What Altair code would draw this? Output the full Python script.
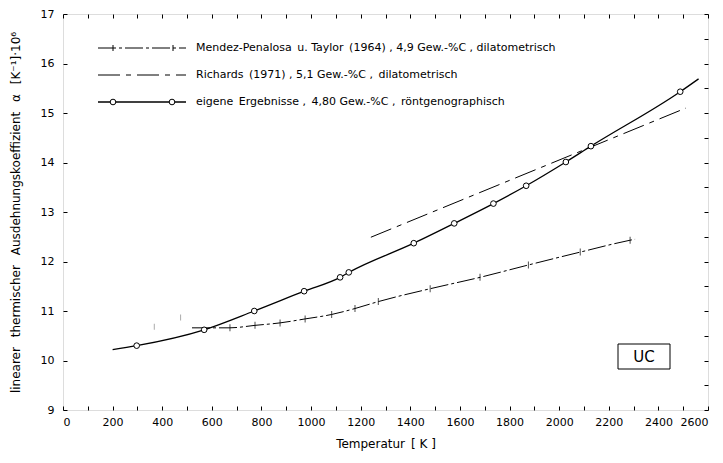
import altair as alt
import pandas as pd

# ---- data ----
x_tick_values = list(range(0, 2601, 100))
y_tick_values = [9 + 0.5 * i for i in range(17)]

# eigene Ergebnisse (circles)
eig_x = [297, 569, 771, 972, 1117, 1152, 1414, 1577, 1735, 1867, 2027, 2128, 2488]
eig_y = [10.30, 10.62, 11.00, 11.40, 11.68, 11.78, 12.37, 12.77, 13.17, 13.53, 14.01, 14.33, 15.43]
# smooth curve through the circles (start / end)
curve_x = [200, 297, 569, 771, 972, 1117, 1152, 1414, 1577, 1735, 1867, 2027, 2128, 2488, 2562]
curve_y = [10.22, 10.30, 10.62, 11.00, 11.40, 11.68, 11.78, 12.37, 12.77, 13.17, 13.53, 14.01, 14.33, 15.43, 15.69]

# Richards (1971)
rich_x = [1241, 2511]
rich_y = [12.49, 15.10]

# Mendez-Penalosa u. Taylor (1964)
mend_x = [520, 673, 774, 875, 976, 1083, 1177, 1271, 1480, 1681, 1876, 2085, 2286, 2306]
mend_y = [10.66, 10.66, 10.71, 10.76, 10.84, 10.93, 11.05, 11.19, 11.45, 11.68, 11.93, 12.19, 12.43, 12.45]
mend_tick_x = [673, 774, 875, 976, 1083, 1177, 1271, 1480, 1681, 1876, 2085, 2286]
mend_tick_y = [10.66, 10.71, 10.76, 10.84, 10.93, 11.05, 11.19, 11.45, 11.68, 11.93, 12.19, 12.43]
mend_extra_x = [368, 474]
mend_extra_y = [10.68, 10.87]

SP = "\u2002"  # en space, keeps the wide word gaps of the original lettering
legend_labels = [
    "Mendez-Penalosa" + SP + "u. Taylor" + SP + "(1964) , 4,9 Gew.-%C , dilatometrisch",
    "Richards" + SP + "(1971) , 5,1 Gew.-%C ," + SP + "dilatometrisch",
    "eigene" + SP + "Ergebnisse ," + SP + "4,80 Gew.-%C ," + SP + "röntgenographisch",
]
box_label = "UC"
x_title = "Temperatur" + SP + "[ K ]"
y_title = ("linearer" + SP + " thermischer" + SP + " Ausdehnungskoeffizient" + SP + " α"
           + SP + " [K⁻¹]·10⁶")

FONT = "DejaVu Sans"
W, H = 645, 396

xs = alt.Scale(domain=[0, 2600], nice=False, zero=False)
ys = alt.Scale(domain=[9, 17], nice=False, zero=False)

curve_df = pd.DataFrame({"T": curve_x, "a": curve_y})
eig_df = pd.DataFrame({"T": eig_x, "a": eig_y})
rich_df = pd.DataFrame({"T": rich_x, "a": rich_y})
mend_df = pd.DataFrame({"T": mend_x, "a": mend_y})
mtick_df = pd.DataFrame({"T": mend_tick_x, "a": mend_tick_y})
mextra_df = pd.DataFrame({"T": mend_extra_x, "a": mend_extra_y})
one = pd.DataFrame({"k": [0]})

axis_common = dict(
    domain=False, tickSize=4, tickColor="black", tickWidth=1,
    labelFont=FONT, labelFontSize=11, labelColor="black",
    titleFont=FONT, titleFontSize=12, titleColor="black", titleFontWeight="normal",
    grid=False,
)

x_axis_bottom = alt.Axis(
    orient="bottom", offset=-4, values=x_tick_values,
    labelExpr="datum.value % 200 == 0 ? datum.label : ''",
    format="d", labelPadding=6, title=x_title, titlePadding=11, **axis_common)
y_axis_left = alt.Axis(
    orient="left", offset=-4, values=y_tick_values,
    labelExpr="datum.value % 1 == 0 ? datum.label : ''",
    format="d", labelPadding=9, title=y_title, titlePadding=18, **axis_common)
x_axis_top = alt.Axis(orient="top", offset=-4, values=x_tick_values, labels=False, title=None, **axis_common)
y_axis_right = alt.Axis(orient="right", offset=-4, values=y_tick_values, labels=False, title=None, **axis_common)

# main curve with axes bottom / left
curve = alt.Chart(curve_df).mark_line(color="black", strokeWidth=1.3, interpolate="monotone").encode(
    x=alt.X("T:Q", scale=xs, axis=x_axis_bottom),
    y=alt.Y("a:Q", scale=ys, axis=y_axis_left),
)
# invisible layer carrying top / right tick axes
frame_ticks = alt.Chart(eig_df).mark_point(opacity=0).encode(
    x=alt.X("T:Q", scale=xs, axis=x_axis_top),
    y=alt.Y("a:Q", scale=ys, axis=y_axis_right),
)

enc = dict(x=alt.X("T:Q", scale=xs, axis=None), y=alt.Y("a:Q", scale=ys, axis=None))

circles = alt.Chart(eig_df).mark_point(shape="circle", size=32, filled=False, fill="white",
                                       fillOpacity=1, stroke="black", strokeWidth=1, opacity=1).encode(**enc)
richards = alt.Chart(rich_df).mark_line(color="black", strokeWidth=1, strokeDash=[22, 6, 5, 6]).encode(**enc)
mendez = alt.Chart(mend_df).mark_line(color="black", strokeWidth=1, strokeDash=[18, 3, 3, 3],
                                      interpolate="monotone").encode(**enc)
mticks = alt.Chart(mtick_df).mark_tick(color="black", orient="vertical", size=7, thickness=1).encode(**enc)
mextra = alt.Chart(mextra_df).mark_tick(color="#888888", orient="vertical", size=6, thickness=1).encode(**enc)

# ---- legend (annotation, pixel positions inside the plot area) ----
leg_rows_y = [34, 61, 88]
lx0, lx1, ltx = 35, 123, 133
legend_layers = []
legend_layers.append(alt.Chart(one).mark_rule(color="black", strokeWidth=1, strokeDash=[18, 3, 3, 3]).encode(
    x=alt.value(lx0), x2=alt.value(lx1), y=alt.value(leg_rows_y[0])))
for px in (50, 110):
    legend_layers.append(alt.Chart(one).mark_rule(color="black", strokeWidth=1).encode(
        x=alt.value(px), y=alt.value(leg_rows_y[0] - 3), y2=alt.value(leg_rows_y[0] + 3)))
legend_layers.append(alt.Chart(one).mark_rule(color="black", strokeWidth=1, strokeDash=[22, 6, 5, 6]).encode(
    x=alt.value(lx0), x2=alt.value(lx1), y=alt.value(leg_rows_y[1])))
legend_layers.append(alt.Chart(one).mark_rule(color="black", strokeWidth=1.3).encode(
    x=alt.value(lx0), x2=alt.value(lx1), y=alt.value(leg_rows_y[2])))
for px in (50, 109):
    legend_layers.append(alt.Chart(one).mark_point(shape="circle", size=32, filled=False, fill="white",
                                                   fillOpacity=1, stroke="black", strokeWidth=1, opacity=1).encode(
        x=alt.value(px), y=alt.value(leg_rows_y[2])))
for ry, lab in zip(leg_rows_y, legend_labels):
    legend_layers.append(alt.Chart(one).mark_text(align="left", baseline="middle", font=FONT, fontSize=11,
                                                  color="black").encode(
        x=alt.value(ltx), y=alt.value(ry), text=alt.value(lab)))

# ---- UC box ----
box = alt.Chart(one).mark_rect(fill="white", stroke="black", strokeWidth=1).encode(
    x=alt.value(555), x2=alt.value(607), y=alt.value(330), y2=alt.value(355))
box_text = alt.Chart(one).mark_text(align="center", baseline="middle", font=FONT, fontSize=15,
                                    color="black").encode(
    x=alt.value(581), y=alt.value(343), text=alt.value(box_label))

chart = alt.layer(
    frame_ticks, curve, richards, mendez, mticks, mextra, circles, *legend_layers, box, box_text
).resolve_axis(x="independent", y="independent").properties(
    width=W, height=H,
    autosize=alt.AutoSizeParams(type="none"),
    padding={"left": 55, "top": 6, "right": 7, "bottom": 45},
).configure_view(stroke="black", strokeWidth=1.2).configure(background="white")

chart.save("out.html", embed_options={"renderer": "svg", "actions": False})
